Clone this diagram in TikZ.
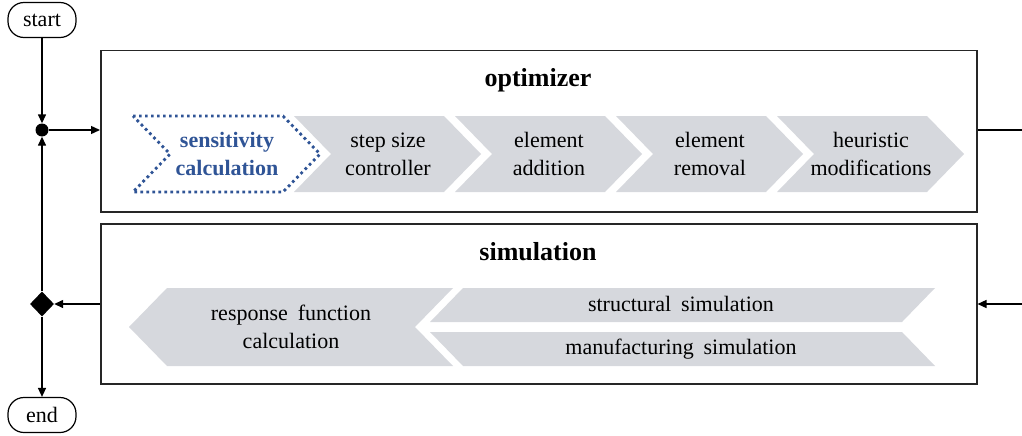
\documentclass[tikz,border=0pt]{standalone}
\usepackage{fontspec}
\setmainfont{Liberation Serif}
\usetikzlibrary{arrows.meta,shapes.geometric}
\definecolor{chevgray}{RGB}{214,216,221}
\definecolor{selblue}{RGB}{47,84,150}

\tikzset{
  % one process step: arrow-shaped band, notched on the left
  pics/chevron/.style={code={
    \path[pic actions] (0,0) -- (150,0) -- (187,38) -- (150,76) -- (0,76) -- (37,38) -- cycle;
  }}
}

\begin{document}
\begin{tikzpicture}[x=1pt,y=-1pt,
  boxframe/.style={draw=black!85,line width=1.5pt,inner sep=0pt,anchor=north west},
  flow/.style={draw,line width=1.4pt},
  arrowed/.style={-{Triangle[length=9pt,width=8pt]}},
  term/.style={draw,line width=1.2pt,rounded corners=16pt,minimum width=68pt,
    minimum height=35pt,inner sep=0pt,font=\fontsize{22}{26}\selectfont},
  steptext/.style={align=center,inner sep=0pt,font=\fontsize{22}{28}\selectfont},
  boxtitle/.style={font=\fontsize{26}{30}\selectfont\bfseries},
  greystep/.style={fill=chevgray}]

\useasboundingbox (0,0) rectangle (1022,436);

% terminals and flow junctions
\node[term] (start) at (42,20) {start};
\node[term] (end) at (42,415) {end};
\node[circle,fill,inner sep=0pt,minimum size=13pt] (join) at (42,130) {};
\node[diamond,fill,inner sep=0pt,minimum width=24pt,minimum height=25pt] (branch) at (42,304) {};

% the two stages
\node[boxframe,minimum width=876pt,minimum height=161pt] (opt) at (100,50) {};
\node[boxframe,minimum width=876pt,minimum height=160pt] (sim) at (100,223) {};
\node[boxtitle] (optT) at (538,80) {optimizer};
\node[boxtitle] (simT) at (538,252) {simulation};

% optimizer steps
\pic[greystep] at (294,116) {chevron};
\pic[greystep] at (455,116) {chevron};
\pic[greystep] at (616,116) {chevron};
\pic[greystep] at (777,116) {chevron};
\pic[draw=selblue,fill=white,line width=2.8pt,dash pattern=on 2.7pt off 3.3pt] at (133,116) {chevron};

\node[steptext,text=selblue,font=\fontsize{22}{28}\selectfont\bfseries] (sens) at (227,154) {sensitivity\\calculation};
\node[steptext] (stepsize) at (388,154) {step size\\controller};
\node[steptext] (addition) at (549,154) {element\\addition};
\node[steptext] (removal) at (710,154) {element\\removal};
\node[steptext] (heur) at (871,154) {heuristic\\modifications};

% simulation steps
\fill[chevgray] (129,327) -- (167,288) -- (453,288) -- (415,327) -- (453,366) -- (167,366) -- cycle;
\fill[chevgray] (463,288) -- (935,288) -- (902,322) -- (430,322) -- cycle;
\fill[chevgray] (430,332) -- (902,332) -- (935,366) -- (463,366) -- cycle;

\node[steptext] (resp) at (291,327) {response\hspace{0.45em}function\\calculation};
\node[steptext] (struct) at (681,304) {structural\hspace{0.45em}simulation};
\node[steptext] (manuf) at (681,349) {manufacturing\hspace{0.45em}simulation};

% connectors
\coordinate (outR) at (1022,130);
\coordinate (inR) at (1022,304);
\draw[flow,arrowed] (start) -- (join);
\draw[flow,arrowed] (join) -- (join -| opt.west);
\draw[flow] (join -| opt.east) -- (outR);
\draw[flow,arrowed] (inR) -- (inR -| sim.east);
\draw[flow,arrowed] (branch -| sim.west) -- (branch);
\draw[flow,arrowed] (branch) -- (join);
\draw[flow,arrowed] (branch) -- (end);
\end{tikzpicture}
\end{document}
